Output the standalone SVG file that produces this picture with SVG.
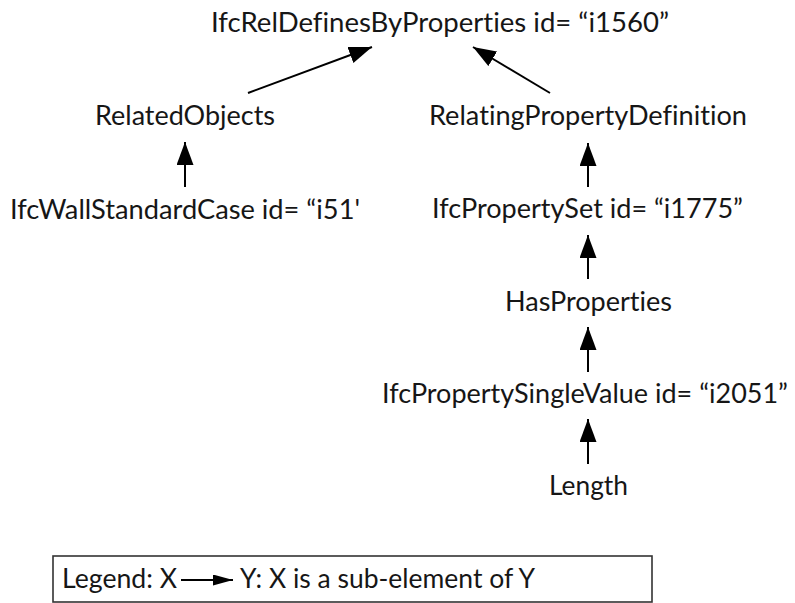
<svg xmlns="http://www.w3.org/2000/svg" width="795" height="603" viewBox="0 0 795 603">
  <style>
    text { font-family: Lato, "Open Sans", "Liberation Sans", sans-serif; font-size: 26px; fill: #161616; font-variant-ligatures: none; font-feature-settings: "liga" 0, "clig" 0; }
    .edge { stroke: #000; stroke-width: 2; fill: none; }
    .legend-box { fill: #fff; stroke: #333; stroke-width: 1.6; }
  </style>
  <defs>
    <marker id="head" markerUnits="userSpaceOnUse" markerWidth="24" markerHeight="18" refX="23" refY="8.5" orient="auto">
      <path d="M0,0 L23,8.5 L0,17 Z" fill="#000"/>
    </marker>
    <marker id="head-small" markerUnits="userSpaceOnUse" markerWidth="21" markerHeight="12" refX="20" refY="5.5" orient="auto">
      <path d="M0,0 L20,5.5 L0,11 Z" fill="#000"/>
    </marker>
  </defs>
  <rect width="795" height="603" fill="#fff"/>

  <!-- nodes -->
  <g id="rel-defines">
    <text x="211" y="32" textLength="458" lengthAdjust="spacingAndGlyphs">IfcRelDefinesByProperties id= “i1560”</text>
  </g>
  <g id="related-objects">
    <text x="95" y="125" textLength="180" lengthAdjust="spacingAndGlyphs">RelatedObjects</text>
  </g>
  <g id="relating-definition">
    <text x="429" y="125" textLength="318" lengthAdjust="spacingAndGlyphs">RelatingPropertyDefinition</text>
  </g>
  <g id="wall">
    <text x="10" y="219" textLength="350" lengthAdjust="spacingAndGlyphs">IfcWallStandardCase id= “i51'</text>
  </g>
  <g id="property-set">
    <text x="432" y="218" textLength="311" lengthAdjust="spacingAndGlyphs">IfcPropertySet id= “i1775”</text>
  </g>
  <g id="has-properties">
    <text x="505" y="311" textLength="167" lengthAdjust="spacingAndGlyphs">HasProperties</text>
  </g>
  <g id="single-value">
    <text x="382" y="403" textLength="406" lengthAdjust="spacingAndGlyphs">IfcPropertySingleValue id= “i2051”</text>
  </g>
  <g id="length">
    <text x="549" y="495" textLength="79" lengthAdjust="spacingAndGlyphs">Length</text>
  </g>

  <!-- connectors: child points up to parent -->
  <g id="connectors">
    <line class="edge" x1="248" y1="93" x2="372" y2="47" marker-end="url(#head)"/>
    <line class="edge" x1="550" y1="93" x2="473" y2="47" marker-end="url(#head)"/>
    <line class="edge" x1="185" y1="187" x2="185" y2="142" marker-end="url(#head)"/>
    <line class="edge" x1="588" y1="187" x2="588" y2="143" marker-end="url(#head)"/>
    <line class="edge" x1="588" y1="279" x2="588" y2="235" marker-end="url(#head)"/>
    <line class="edge" x1="588" y1="372" x2="588" y2="327" marker-end="url(#head)"/>
    <line class="edge" x1="588" y1="464" x2="588" y2="419" marker-end="url(#head)"/>
  </g>

  <!-- legend -->
  <g id="legend">
    <rect class="legend-box" x="53" y="556" width="599" height="46"/>
    <text x="62" y="588" textLength="115" lengthAdjust="spacingAndGlyphs">Legend: X</text>
    <line class="edge" x1="181" y1="580" x2="233" y2="580" marker-end="url(#head-small)"/>
    <text x="240" y="588" textLength="295" lengthAdjust="spacingAndGlyphs">Y: X is a sub-element of Y</text>
  </g>
</svg>
